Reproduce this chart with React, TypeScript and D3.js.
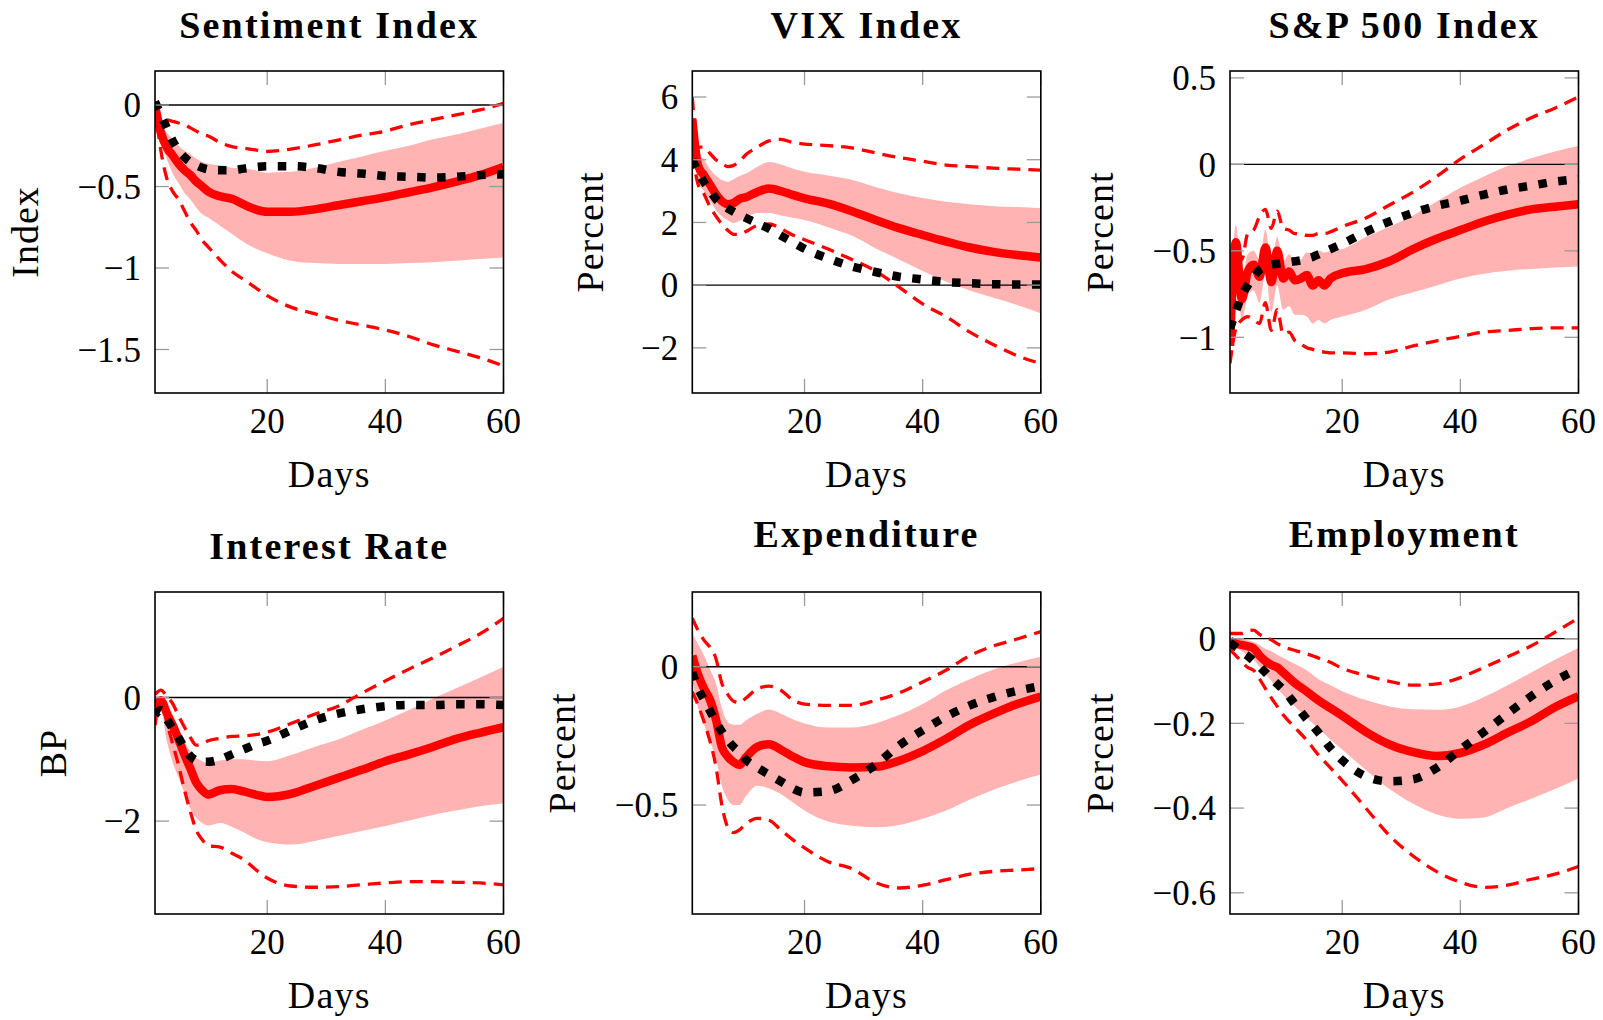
import React from 'react';
import * as d3 from 'd3';

// ---------- shared axis data ----------
const daysStd = [1, 2, 3, 4, 5, 6, 7, 8, 9, 10, 12, 14, 16, 18, 20, 24, 28, 32, 36, 40, 44, 48, 52, 56, 60];
const daysSP = [1, 2, 3, 4, 5, 6, 7, 8, 9, 10, 11, 12, 13, 14, 15, 16, 17, 18, 20, 24, 28, 32, 36, 40, 44, 48, 52, 56, 60];
const xTicks = [20, 40, 60];

// ---------- Sentiment Index ----------
const sentimentTicks = [0, -0.5, -1, -1.5];
const sentimentMedian = [0, -0.17, -0.26, -0.31, -0.36, -0.40, -0.43, -0.47, -0.50, -0.53, -0.56, -0.575, -0.61, -0.64, -0.655, -0.655, -0.64, -0.615, -0.59, -0.565, -0.535, -0.505, -0.47, -0.43, -0.38];
const sentimentBandHi = [0, -0.12, -0.17, -0.21, -0.25, -0.28, -0.30, -0.33, -0.35, -0.36, -0.37, -0.385, -0.39, -0.40, -0.415, -0.41, -0.385, -0.35, -0.315, -0.28, -0.25, -0.21, -0.18, -0.145, -0.11];
const sentimentBandLo = [0, -0.22, -0.33, -0.42, -0.48, -0.54, -0.58, -0.63, -0.67, -0.69, -0.74, -0.79, -0.84, -0.88, -0.91, -0.955, -0.97, -0.975, -0.975, -0.975, -0.97, -0.965, -0.955, -0.945, -0.935];
const sentimentDashHi = [0, -0.08, -0.09, -0.10, -0.11, -0.12, -0.14, -0.16, -0.18, -0.19, -0.23, -0.255, -0.265, -0.275, -0.285, -0.27, -0.245, -0.215, -0.185, -0.16, -0.12, -0.09, -0.06, -0.03, 0.01];
const sentimentDashLo = [0, -0.28, -0.45, -0.53, -0.58, -0.65, -0.72, -0.77, -0.83, -0.87, -0.95, -1.02, -1.07, -1.12, -1.17, -1.24, -1.28, -1.32, -1.35, -1.38, -1.42, -1.47, -1.51, -1.55, -1.60];
const sentimentBlack = [0.02, -0.06, -0.14, -0.22, -0.28, -0.32, -0.35, -0.37, -0.385, -0.395, -0.40, -0.40, -0.39, -0.38, -0.375, -0.375, -0.385, -0.41, -0.42, -0.435, -0.44, -0.445, -0.44, -0.43, -0.425];

// ---------- VIX Index ----------
const vixTicks = [6, 4, 2, 0, -2];
const vixMedian = [5.3, 3.8, 3.5, 3.2, 2.9, 2.68, 2.58, 2.62, 2.75, 2.8, 2.97, 3.08, 3.0, 2.88, 2.77, 2.6, 2.36, 2.08, 1.82, 1.6, 1.39, 1.2, 1.06, 0.96, 0.88];
const vixBandHi = [5.6, 4.2, 4.0, 3.7, 3.5, 3.35, 3.3, 3.38, 3.48, 3.55, 3.78, 3.93, 3.85, 3.72, 3.62, 3.5, 3.36, 3.13, 2.93, 2.78, 2.66, 2.58, 2.52, 2.49, 2.45];
const vixBandLo = [4.9, 3.3, 3.0, 2.7, 2.4, 2.2, 2.07, 1.98, 2.05, 2.15, 2.3, 2.3, 2.22, 2.15, 2.08, 1.85, 1.58, 1.18, 0.82, 0.45, 0.11, -0.17, -0.4, -0.63, -0.9];
const vixDashHi = [6.0, 4.4, 4.4, 4.2, 4.0, 3.9, 3.78, 3.82, 3.94, 4.15, 4.4, 4.6, 4.65, 4.55, 4.5, 4.45, 4.38, 4.22, 4.07, 3.95, 3.83, 3.78, 3.73, 3.7, 3.67];
const vixDashLo = [4.2, 3.2, 2.9, 2.5, 2.2, 1.95, 1.75, 1.62, 1.62, 1.7, 1.9, 1.95, 1.8, 1.6, 1.45, 1.15, 0.82, 0.45, -0.06, -0.6, -1.01, -1.5, -1.9, -2.25, -2.5];
const vixBlack = [4.0, 3.6, 3.28, 3.02, 2.75, 2.58, 2.45, 2.34, 2.24, 2.15, 1.98, 1.8, 1.58, 1.37, 1.16, 0.85, 0.6, 0.42, 0.27, 0.18, 0.1, 0.06, 0.03, 0.02, 0.02];

// ---------- S&P 500 Index ----------
const spTicks = [0.5, 0, -0.5, -1];
const spMedian = [-1.05, -0.45, -0.78, -0.62, -0.58, -0.65, -0.48, -0.68, -0.5, -0.66, -0.62, -0.67, -0.66, -0.64, -0.7, -0.67, -0.7, -0.66, -0.63, -0.605, -0.56, -0.49, -0.43, -0.38, -0.33, -0.29, -0.26, -0.245, -0.23];
const spBandHi = [-0.88, -0.35, -0.66, -0.52, -0.5, -0.55, -0.38, -0.57, -0.42, -0.56, -0.52, -0.56, -0.55, -0.51, -0.52, -0.5, -0.51, -0.5, -0.49, -0.42, -0.36, -0.295, -0.215, -0.135, -0.07, -0.01, 0.035, 0.075, 0.106];
const spBandLo = [-1.15, -0.55, -0.9, -0.76, -0.73, -0.8, -0.63, -0.85, -0.7, -0.84, -0.82, -0.87, -0.87, -0.88, -0.92, -0.9, -0.92, -0.9, -0.88, -0.84, -0.78, -0.74, -0.7, -0.66, -0.633, -0.615, -0.605, -0.596, -0.59];
const spDashHi = [-0.85, -0.5, -0.55, -0.4, -0.38, -0.3, -0.26, -0.37, -0.27, -0.37, -0.38, -0.4, -0.4, -0.41, -0.41, -0.4, -0.4, -0.39, -0.36, -0.31, -0.235, -0.16, -0.07, 0.03, 0.115, 0.2, 0.27, 0.325, 0.39];
const spDashLo = [-1.15, -0.95, -0.9, -0.88, -0.9, -0.92, -0.8, -0.96, -0.84, -0.98, -0.97, -1.02, -1.04, -1.06, -1.07, -1.08, -1.085, -1.09, -1.09, -1.095, -1.085, -1.05, -1.02, -0.995, -0.97, -0.96, -0.95, -0.945, -0.945];
const spBlack = [-0.95, -0.85, -0.76, -0.7, -0.65, -0.61, -0.59, -0.58, -0.575, -0.57, -0.565, -0.56, -0.555, -0.545, -0.535, -0.52, -0.505, -0.49, -0.46, -0.39, -0.33, -0.28, -0.24, -0.21, -0.175, -0.145, -0.123, -0.1, -0.085];

// ---------- Interest Rate ----------
const irTicks = [0, -2];
const irMedian = [-0.15, -0.05, -0.25, -0.45, -0.68, -0.93, -1.15, -1.38, -1.5, -1.57, -1.5, -1.48, -1.52, -1.57, -1.61, -1.56, -1.43, -1.3, -1.17, -1.03, -0.92, -0.8, -0.67, -0.57, -0.48];
const irBandHi = [-0.05, 0.02, -0.15, -0.35, -0.55, -0.72, -0.87, -0.98, -1.03, -1.06, -1.02, -1.0, -1.0, -1.02, -1.03, -0.93, -0.8, -0.68, -0.52, -0.37, -0.2, -0.02, 0.15, 0.32, 0.5];
const irBandLo = [-0.3, -0.2, -0.7, -1.05, -1.3, -1.55, -1.8, -1.95, -2.03, -2.07, -2.03, -2.09, -2.18, -2.28, -2.34, -2.38, -2.32, -2.24, -2.16, -2.08, -1.99, -1.9, -1.83, -1.76, -1.71];
const irDashHi = [0.05, 0.12, 0.02, -0.1, -0.3, -0.48, -0.65, -0.77, -0.75, -0.7, -0.66, -0.63, -0.62, -0.6, -0.56, -0.42, -0.27, -0.14, 0.07, 0.27, 0.46, 0.64, 0.83, 1.03, 1.28];
const irDashLo = [-0.45, 0.0, -0.4, -0.75, -1.1, -1.5, -1.85, -2.15, -2.3, -2.4, -2.42, -2.52, -2.62, -2.78, -2.92, -3.05, -3.07, -3.06, -3.03, -3.0, -2.98, -2.98, -2.99, -3.0, -3.03];
const irBlack = [-0.28, -0.2, -0.35, -0.5, -0.65, -0.82, -0.95, -1.02, -1.04, -1.04, -1.0, -0.92, -0.84, -0.76, -0.7, -0.53, -0.37, -0.26, -0.19, -0.14, -0.12, -0.12, -0.11, -0.11, -0.12];

// ---------- Expenditure ----------
const expTicks = [0, -0.5];
const expMedian = [0.04, -0.03, -0.08, -0.12, -0.19, -0.29, -0.325, -0.345, -0.355, -0.33, -0.29, -0.28, -0.3, -0.325, -0.345, -0.36, -0.364, -0.362, -0.34, -0.305, -0.26, -0.21, -0.17, -0.135, -0.108];
const expBandHi = [0.12, 0.08, 0.04, -0.01, -0.06, -0.15, -0.2, -0.21, -0.21, -0.195, -0.17, -0.155, -0.17, -0.19, -0.205, -0.22, -0.22, -0.205, -0.175, -0.135, -0.085, -0.045, -0.01, 0.015, 0.036];
const expBandLo = [-0.05, -0.15, -0.21, -0.27, -0.33, -0.43, -0.48, -0.5, -0.5, -0.47, -0.43, -0.44, -0.46, -0.49, -0.52, -0.56, -0.575, -0.58, -0.572, -0.55, -0.52, -0.48, -0.445, -0.415, -0.39];
const expDashHi = [0.175, 0.13, 0.095, 0.07, 0.03, -0.06, -0.1, -0.125, -0.13, -0.115, -0.08, -0.07, -0.085, -0.12, -0.135, -0.14, -0.14, -0.122, -0.095, -0.055, -0.012, 0.04, 0.075, 0.1, 0.127];
const expDashLo = [-0.09, -0.14, -0.2, -0.27, -0.36, -0.5, -0.58, -0.6, -0.59, -0.57, -0.548, -0.555, -0.59, -0.625, -0.655, -0.705, -0.73, -0.78, -0.8, -0.79, -0.77, -0.75, -0.74, -0.735, -0.73];
const expBlack = [-0.02, -0.08, -0.12, -0.16, -0.2, -0.235, -0.265, -0.29, -0.31, -0.335, -0.365, -0.39, -0.415, -0.44, -0.455, -0.45, -0.41, -0.355, -0.285, -0.23, -0.18, -0.14, -0.11, -0.087, -0.07];

// ---------- Employment ----------
const empTicks = [0, -0.2, -0.4, -0.6];
const empMedian = [-0.005, -0.012, -0.015, -0.018, -0.023, -0.04, -0.053, -0.062, -0.068, -0.08, -0.105, -0.125, -0.146, -0.164, -0.182, -0.22, -0.25, -0.268, -0.277, -0.27, -0.25, -0.222, -0.195, -0.162, -0.136];
const empBandHi = [0, 0.0, -0.002, -0.004, -0.008, -0.015, -0.024, -0.03, -0.038, -0.045, -0.06, -0.075, -0.096, -0.11, -0.124, -0.145, -0.16, -0.167, -0.168, -0.16, -0.138, -0.11, -0.08, -0.05, -0.022];
const empBandLo = [-0.01, -0.02, -0.03, -0.04, -0.05, -0.066, -0.083, -0.1, -0.116, -0.133, -0.16, -0.187, -0.213, -0.238, -0.262, -0.31, -0.355, -0.39, -0.415, -0.425, -0.422, -0.4, -0.378, -0.355, -0.33];
const empDashHi = [0.012, 0.012, 0.012, 0.018, 0.02, 0.01, 0.003, -0.003, -0.012, -0.019, -0.028, -0.036, -0.046, -0.056, -0.07, -0.087, -0.101, -0.11, -0.107, -0.092, -0.068, -0.043, -0.017, 0.015, 0.049];
const empDashLo = [-0.026, -0.04, -0.055, -0.068, -0.075, -0.095, -0.118, -0.14, -0.16, -0.18, -0.21, -0.24, -0.275, -0.305, -0.335, -0.4, -0.465, -0.513, -0.55, -0.575, -0.587, -0.582, -0.568, -0.556, -0.538];
const empBlack = [-0.01, -0.02, -0.031, -0.041, -0.053, -0.066, -0.08, -0.094, -0.107, -0.12, -0.155, -0.19, -0.222, -0.258, -0.287, -0.325, -0.337, -0.332, -0.305, -0.262, -0.22, -0.177, -0.136, -0.1, -0.071];

// ---------- layout ----------
const W = 1603;
const H = 1020;
const COLS = [155, 692.3, 1230];
const ROWS = [71, 592];
const PW = 348.5;
const PH = 322;
const FONT = "'Liberation Serif', 'Times New Roman', serif";
const RED = '#ff0000';
const BAND = '#ffb3b3';
const TICK = '#9a9a9a';

type PanelDef = {
  title: string; ylabel: string; col: number; row: number;
  yDomain: [number, number]; yTicks: number[]; titleGap: number; ylabOff: number;
  days: number[]; median: number[]; bandLo: number[]; bandHi: number[];
  dashLo: number[]; dashHi: number[]; black: number[];
};

const panels: PanelDef[] = [
  { title: 'Sentiment Index', ylabel: 'Index', col: 0, row: 0, yDomain: [-1.767, 0.209], yTicks: sentimentTicks, titleGap: 33, ylabOff: 117,
    days: daysStd, median: sentimentMedian, bandLo: sentimentBandLo, bandHi: sentimentBandHi, dashLo: sentimentDashLo, dashHi: sentimentDashHi, black: sentimentBlack },
  { title: 'VIX Index', ylabel: 'Percent', col: 1, row: 0, yDomain: [-3.44, 6.83], yTicks: vixTicks, titleGap: 33, ylabOff: 89,
    days: daysStd, median: vixMedian, bandLo: vixBandLo, bandHi: vixBandHi, dashLo: vixDashLo, dashHi: vixDashHi, black: vixBlack },
  { title: 'S&P 500 Index', ylabel: 'Percent', col: 2, row: 0, yDomain: [-1.322, 0.54], yTicks: spTicks, titleGap: 33, ylabOff: 117,
    days: daysSP, median: spMedian, bandLo: spBandLo, bandHi: spBandHi, dashLo: spDashLo, dashHi: spDashHi, black: spBlack },
  { title: 'Interest Rate', ylabel: 'BP', col: 0, row: 1, yDomain: [-3.503, 1.708], yTicks: irTicks, titleGap: 33, ylabOff: 89,
    days: daysStd, median: irMedian, bandLo: irBandLo, bandHi: irBandHi, dashLo: irDashLo, dashHi: irDashHi, black: irBlack },
  { title: 'Expenditure', ylabel: 'Percent', col: 1, row: 1, yDomain: [-0.894, 0.27], yTicks: expTicks, titleGap: 45, ylabOff: 117,
    days: daysStd, median: expMedian, bandLo: expBandLo, bandHi: expBandHi, dashLo: expDashLo, dashHi: expDashHi, black: expBlack },
  { title: 'Employment', ylabel: 'Percent', col: 2, row: 1, yDomain: [-0.65, 0.11], yTicks: empTicks, titleGap: 45, ylabOff: 117,
    days: daysStd, median: empMedian, bandLo: empBandLo, bandHi: empBandHi, dashLo: empDashLo, dashHi: empDashHi, black: empBlack },
];

const fmt = (v: number) => String(v).replace('-', '\u2212');

function Panel({ p, idx }: { p: PanelDef; idx: number }) {
  const x0 = COLS[p.col];
  const y0 = ROWS[p.row];
  const x = d3.scaleLinear().domain([1, 60]).range([x0, x0 + PW]);
  const y = d3.scaleLinear().domain(p.yDomain).range([y0 + PH, y0]);
  const idxs = p.days.map((_, i) => i);
  const mkLine = (vals: number[]) =>
    d3.line<number>().x((i) => x(p.days[i])).y((i) => y(vals[i])).curve(d3.curveMonotoneX)(idxs) || '';
  const band =
    d3.area<number>().x((i) => x(p.days[i])).y0((i) => y(p.bandLo[i])).y1((i) => y(p.bandHi[i])).curve(d3.curveMonotoneX)(idxs) || '';
  const clipId = `clip-${idx}`;
  const tickLen = 14;
  return (
    <g>
      <defs>
        <clipPath id={clipId}>
          <rect x={x0} y={y0} width={PW} height={PH} />
        </clipPath>
      </defs>
      <g clipPath={`url(#${clipId})`}>
        <path d={band} fill={BAND} stroke="none" />
        <line x1={x0} x2={x0 + PW} y1={y(0)} y2={y(0)} stroke="#000" strokeWidth={1.4} />
        <path d={mkLine(p.dashHi)} fill="none" stroke={RED} strokeWidth={3.3} strokeDasharray="13 8" />
        <path d={mkLine(p.dashLo)} fill="none" stroke={RED} strokeWidth={3.3} strokeDasharray="13 8" />
        <path d={mkLine(p.median)} fill="none" stroke={RED} strokeWidth={8.5} strokeLinejoin="round" />
        <path d={mkLine(p.black)} fill="none" stroke="#000" strokeWidth={8.5} strokeDasharray="8.5 11.5" />
      </g>
      {xTicks.map((t) => (
        <g key={'xt' + t}>
          <line x1={x(t)} x2={x(t)} y1={y0} y2={y0 + tickLen} stroke={TICK} strokeWidth={1.3} />
          <line x1={x(t)} x2={x(t)} y1={y0 + PH} y2={y0 + PH - tickLen} stroke={TICK} strokeWidth={1.3} />
          <text x={x(t)} y={y0 + PH + 40} textAnchor="middle" fontSize={35} fontFamily={FONT} fill="#000">
            {fmt(t)}
          </text>
        </g>
      ))}
      {p.yTicks.map((t) => (
        <g key={'yt' + t}>
          <line x1={x0} x2={x0 + tickLen} y1={y(t)} y2={y(t)} stroke={TICK} strokeWidth={1.3} />
          <line x1={x0 + PW} x2={x0 + PW - tickLen} y1={y(t)} y2={y(t)} stroke={TICK} strokeWidth={1.3} />
          <text x={x0 - 14} y={y(t)} dy="0.35em" textAnchor="end" fontSize={35} fontFamily={FONT} fill="#000">
            {fmt(t)}
          </text>
        </g>
      ))}
      <rect x={x0} y={y0} width={PW} height={PH} fill="none" stroke="#000" strokeWidth={1.6} />
      <text x={x0 + PW / 2} y={y0 - p.titleGap} textAnchor="middle" fontSize={38} fontWeight="bold" letterSpacing={2.2} fontFamily={FONT} fill="#000">
        {p.title}
      </text>
      <text x={x0 + PW / 2} y={y0 + PH + 94} textAnchor="middle" fontSize={38} letterSpacing={1.2} fontFamily={FONT} fill="#000">
        Days
      </text>
      <text transform={`translate(${x0 - p.ylabOff},${y0 + PH / 2}) rotate(-90)`} textAnchor="middle" fontSize={38} letterSpacing={1} fontFamily={FONT} fill="#000">
        {p.ylabel}
      </text>
    </g>
  );
}

export default function App() {
  return (
    <svg width={W} height={H} viewBox={`0 0 ${W} ${H}`} style={{ position: 'absolute', left: 0, top: 0, background: '#fff' }}>
      <rect x={0} y={0} width={W} height={H} fill="#fff" />
      {panels.map((p, i) => (
        <Panel key={p.title} p={p} idx={i} />
      ))}
    </svg>
  );
}
